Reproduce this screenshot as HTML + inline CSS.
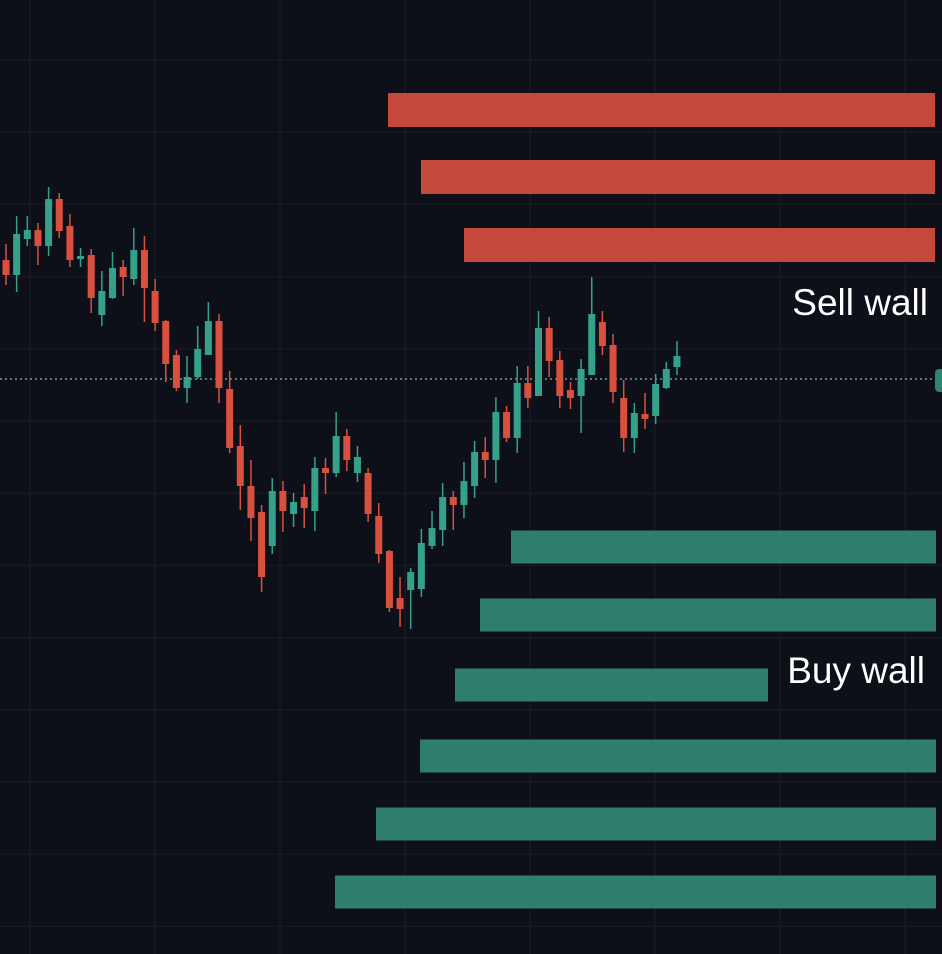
<!DOCTYPE html>
<html><head><meta charset="utf-8"><style>
html,body{margin:0;padding:0;background:#0e1019;}
svg{display:block;}
</style></head><body>
<svg id="chart" width="942" height="954" xmlns="http://www.w3.org/2000/svg">
<rect x="0" y="0" width="942" height="954" fill="#0e1019"/>
<g id="grid"></g>
<g id="walls"></g>
<line x1="0" y1="379" x2="934" y2="379" stroke="#6f9c98" stroke-width="1.5" stroke-dasharray="2,3"/>
<rect x="935" y="369" width="14" height="23" rx="4" fill="#2e8573"/>
<g id="candles"></g>
<text x="928" y="315" text-anchor="end" font-family="Liberation Sans, sans-serif" font-size="37" fill="#ffffff">Sell wall</text>
<text x="925" y="683" text-anchor="end" font-family="Liberation Sans, sans-serif" font-size="37" fill="#ffffff">Buy wall</text>
</svg>
<script>
const opens  = [740,725,761,770,754,801,774,741,745,685,702,733,721,750,709,679,645,612,623,645,679,611,554,514,488,454,509,486,503,489,532,527,564,527,527,484,449,402,410,411,454,470,503,495,514,548,540,588,562,617,604,672,640,610,604,625,678,655,602,562,586,584,612,633];
const highs  = [756,784,784,777,813,807,786,752,751,729,748,740,772,764,721,680,650,644,674,698,686,629,575,540,495,522,519,507,516,543,542,588,571,554,532,497,450,423,432,471,489,517,509,538,559,563,603,594,634,634,689,683,649,618,641,723,689,666,620,597,607,626,638,659];
const lows   = [715,708,754,735,744,762,733,733,687,674,701,704,715,678,669,618,609,597,621,645,597,547,490,459,408,446,468,473,472,469,506,523,529,518,478,437,388,373,371,403,451,454,470,482,502,522,517,558,547,592,604,623,592,591,567,625,645,597,548,547,571,576,611,625];
const closes = [725,766,770,754,801,769,740,744,702,709,732,723,750,712,677,636,612,623,651,679,612,552,514,482,423,509,489,498,492,532,527,564,540,543,486,446,392,391,428,457,472,503,495,519,548,540,588,562,617,602,672,639,604,602,631,686,654,608,562,587,581,616,631,644];
// order walls: price level (centre) and size
const sellLevels = [890,823,755];
const sellSizes  = [547,514,471];
const buyLevels  = [453,385,315,244,176,108];
const buySizes   = [425,456,313,516,560,601];
const buyEnds    = [936,936,768,936,936,936];

const NS='http://www.w3.org/2000/svg';
function yScale(p){return 1000-p;}
function xScale(i){return 6+i*10.65;}
function mk(tag,attrs){const e=document.createElementNS(NS,tag);for(const k in attrs)e.setAttribute(k,attrs[k]);return e;}

const grid=document.getElementById('grid');
for(let x=30;x<942;x+=125){
  const l=mk('line',{x1:x,y1:0,x2:x,y2:954,stroke:'#191c27','stroke-width':1});
  
  
  grid.appendChild(l);
}
for(let y=60;y<954;y+=72.2){
  const l=mk('line',{x1:0,y1:y,x2:942,y2:y,stroke:'#191c27','stroke-width':1});
  
  
  grid.appendChild(l);
}

const walls=document.getElementById('walls');
for(let i=0;i<sellLevels.length;i++){
  const r=mk('rect',{x:935-sellSizes[i],y:yScale(sellLevels[i])-17,width:sellSizes[i],height:34,fill:'#c4493b'});
  
  
  walls.appendChild(r);
}
for(let i=0;i<buyLevels.length;i++){
  const r=mk('rect',{x:buyEnds[i]-buySizes[i],y:yScale(buyLevels[i])-16.5,width:buySizes[i],height:33,fill:'#2e7d6d'});
  
  
  walls.appendChild(r);
}

const cg=document.getElementById('candles');
for(let i=0;i<opens.length;i++){
  const up=closes[i]>=opens[i];
  const col=up?'#35a18a':'#d9503f';
  const x=xScale(i);
  const g=mk('g',{});
  
  
  g.appendChild(mk('line',{x1:x,y1:yScale(highs[i]),x2:x,y2:yScale(lows[i]),stroke:col,'stroke-width':1.5}));
  const top=yScale(Math.max(opens[i],closes[i])),bot=yScale(Math.min(opens[i],closes[i]));
  g.appendChild(mk('rect',{x:x-3.5,y:top,width:7,height:Math.max(2,bot-top),fill:col}));
  cg.appendChild(g);
}
</script>
</body></html>
